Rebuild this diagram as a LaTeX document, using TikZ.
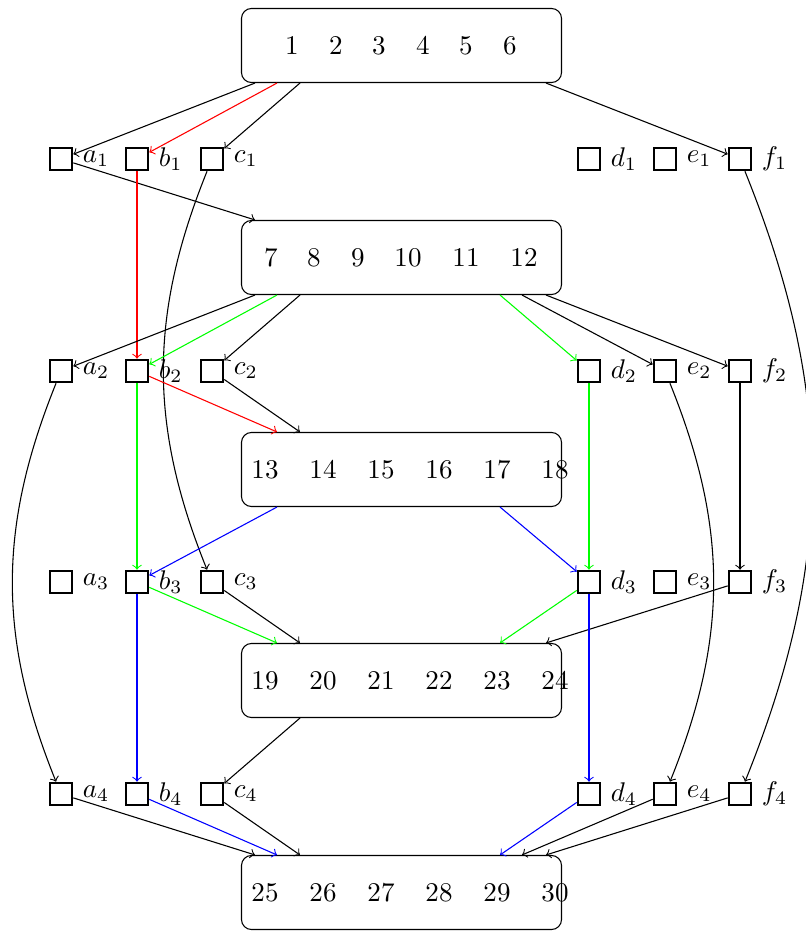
\documentclass[tikz,border=0pt]{standalone}
\usetikzlibrary{calc}
\tikzset{
  group/.style={draw, rounded corners=3.7pt, minimum width=118.4pt, minimum height=27.4pt, inner sep=0pt},
  cell/.style={draw, line width=0.9pt, minimum size=8.2pt, inner sep=0pt, label distance=0.5pt},
  num/.style={inner sep=1pt},
  link/.style={->},
}
\begin{document}
\begin{tikzpicture}[x=0.37pt,y=-0.37pt]
  \useasboundingbox (0,0) rectangle (806,931);
  % Rounded boxes and their numbers
  \foreach \k/\y in {1/45.5, 2/257.5, 3/469.5, 4/680.5, 5/892.5}
    \node[group] (g\k) at (401.5,\y) {};
  \foreach \t/\x in {1/292, 2/336, 3/379, 4/423, 5/466, 6/510}
    \node[num] (t\t) at (\x,45.5) {\t};
  \foreach \t/\x in {7/271, 8/314, 9/358, 10/408, 11/466, 12/524}
    \node[num] (t\t) at (\x,257.5) {\t};
  \foreach \k/\y/\s in {3/469.5/13, 4/680.5/19, 5/892.5/25}
    \foreach \i in {0,...,5} {
      \pgfmathtruncatemacro{\t}{\s+\i}
      \node[num] (t\t) at ({265+58*\i},\y) {\t};
    }
  % Attachment points along the box edges
  \foreach \k in {1,...,5} {
    \foreach \i/\dx in {1/14, 2/36, 3/59} {
      \coordinate (g\k-s\i) at ($(g\k.south west)+(\dx,0)$);
      \coordinate (g\k-n\i) at ($(g\k.north west)+(\dx,0)$);
    }
    \foreach \i/\dx in {4/-62, 5/-40, 6/-16} {
      \coordinate (g\k-s\i) at ($(g\k.south east)+(\dx,0)$);
      \coordinate (g\k-n\i) at ($(g\k.north east)+(\dx,0)$);
    }
  }
  % Rows of small squares
  \foreach \r/\y in {1/159, 2/371, 3/582, 4/794}
    \foreach \c/\x in {a/61, b/137, c/212, d/589, e/665, f/740}
      \node[cell, label=right:$\c_{\r}$] (\c\r) at (\x,\y) {};
  % First box
  \draw[link] (g1-s1) -- (a1);
  \draw[link, red] (g1-s2) -- (b1);
  \draw[link] (g1-s3) -- (c1);
  \draw[link] (g1-s6) -- (f1);
  % Row 1
  \draw[link] (a1) -- (g2-n1);
  \draw[link, red] (b1) -- (b2);
  \draw[link] (c1) to[bend right=22] (c3);
  \draw[link] (f1) to[bend left=22] (f4);
  % Second box
  \draw[link] (g2-s1) -- (a2);
  \draw[link, green] (g2-s2) -- (b2);
  \draw[link] (g2-s3) -- (c2);
  \draw[link, green] (g2-s4) -- (d2);
  \draw[link] (g2-s5) -- (e2);
  \draw[link] (g2-s6) -- (f2);
  % Row 2
  \draw[link] (a2) to[bend right=22] (a4);
  \draw[link, green] (b2) -- (b3);
  \draw[link, red] (b2) -- (g3-n2);
  \draw[link] (c2) -- (g3-n3);
  \draw[link, green] (d2) -- (d3);
  \draw[link] (e2) to[bend left=22] (e4);
  \draw[link] (f2) -- (f3);
  % Third box
  \draw[link, blue] (g3-s2) -- (b3);
  \draw[link, blue] (g3-s4) -- (d3);
  % Row 3
  \draw[link, green] (b3) -- (g4-n2);
  \draw[link] (c3) -- (g4-n3);
  \draw[link, green] (d3) -- (g4-n4);
  \draw[link] (f3) -- (g4-n6);
  \draw[link, blue] (b3) -- (b4);
  \draw[link, blue] (d3) -- (d4);
  % Fourth box
  \draw[link] (g4-s3) -- (c4);
  % Row 4
  \draw[link] (a4) -- (g5-n1);
  \draw[link, blue] (b4) -- (g5-n2);
  \draw[link] (c4) -- (g5-n3);
  \draw[link, blue] (d4) -- (g5-n4);
  \draw[link] (e4) -- (g5-n5);
  \draw[link] (f4) -- (g5-n6);
\end{tikzpicture}
\end{document}
